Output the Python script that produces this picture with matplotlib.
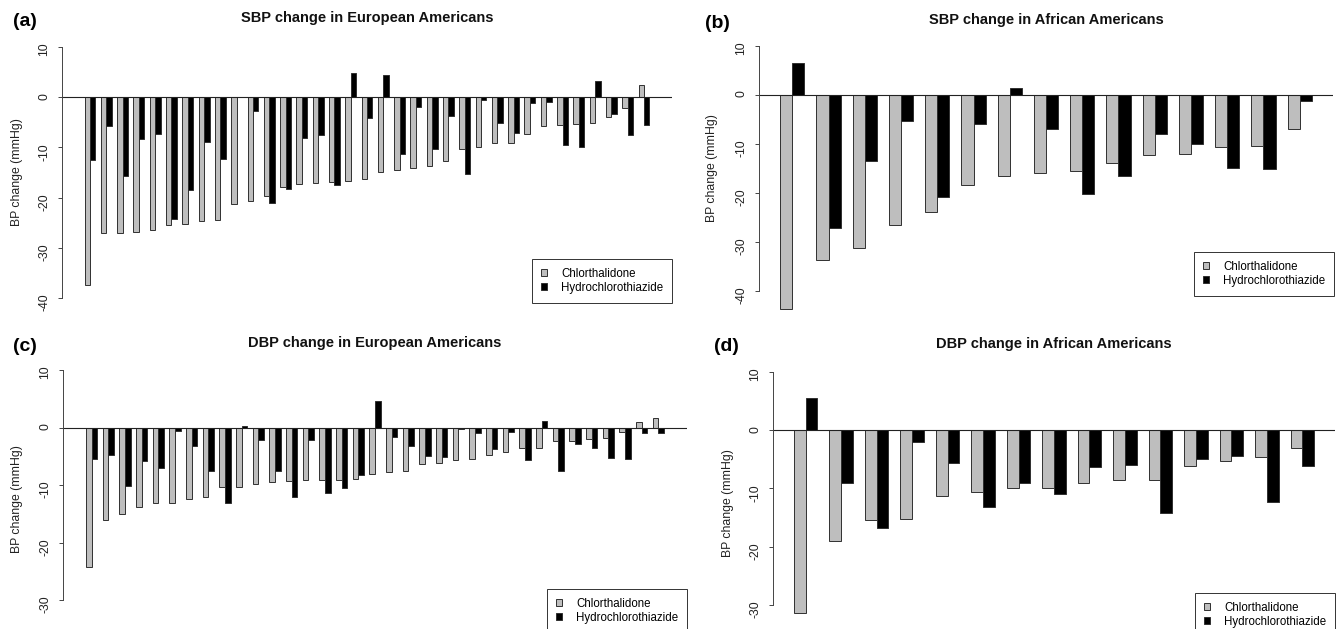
import matplotlib.pyplot as plt
from matplotlib.patches import Patch

plt.rcParams['font.family'] = ['Liberation Sans', 'DejaVu Sans']

W, H = 1338, 629
DPI = 100

# (a) SBP change, European Americans (35 pairs)
sbp_ea_chl = [-37.4, -27.0, -27.0, -26.9, -26.4, -25.5, -25.3, -24.6, -24.4, -21.3,
              -20.6, -19.7, -17.8, -17.3, -17.0, -16.8, -16.7, -16.2, -14.9, -14.6,
              -14.1, -13.7, -12.8, -10.3, -9.9, -9.2, -9.2, -7.3, -5.7, -5.6,
              -5.3, -5.1, -3.9, -2.2, 2.5]
sbp_ea_hctz = [-12.5, -5.8, -15.6, -8.3, -7.4, -24.2, -18.5, -8.9, -12.3, 0.0,
               -2.7, -21.0, -18.3, -8.2, -7.5, -17.4, 4.8, -4.1, 4.4, -11.4,
               -1.9, -10.3, -3.7, -15.2, -0.6, -5.1, -7.1, -1.1, -0.9, -9.5,
               -10.0, 3.2, -3.4, -7.5, -5.5]

# (b) SBP change, African Americans (15 pairs)
sbp_aa_chl = [-43.7, -33.6, -31.3, -26.6, -23.9, -18.3, -16.6, -16.0, -15.6, -13.9,
              -12.2, -12.1, -10.7, -10.5, -6.9]
sbp_aa_hctz = [6.6, -27.1, -13.5, -5.3, -20.9, -5.9, 1.5, -7.0, -20.3, -16.5,
               -7.9, -10.0, -14.8, -15.0, -1.3]

# (c) DBP change, European Americans
dbp_ea_chl = [-24.3, -16.0, -15.1, -13.8, -13.2, -13.1, -12.4, -12.0, -10.4, -10.4,
              -9.9, -9.4, -9.3, -9.2, -9.2, -9.2, -9.0, -8.0, -7.8, -7.5,
              -6.4, -6.1, -5.6, -5.5, -4.7, -4.3, -3.6, -3.5, -2.3, -2.3,
              -2.0, -1.8, -0.7, 1.0, 1.7]
dbp_ea_hctz = [-5.5, -4.7, -10.1, -5.8, -7.0, -0.6, -3.2, -7.5, -13.2, 0.3,
               -2.2, -7.5, -12.1, -2.2, -11.4, -10.6, -8.2, 4.6, -1.6, -3.2,
               -5.0, -5.2, -0.2, -0.9, -3.8, -0.8, -5.7, 1.1, -7.6, -2.8,
               -3.5, -5.3, -5.5, -0.9, -1.0]

# (d) DBP change, African Americans
dbp_aa_chl = [-31.4, -19.0, -15.4, -15.3, -11.3, -10.6, -10.0, -10.0, -9.0, -8.5,
              -8.5, -6.2, -5.3, -4.6, -3.0]
dbp_aa_hctz = [5.6, -9.0, -16.8, -2.1, -5.7, -13.2, -9.0, -10.9, -6.3, -5.9,
               -14.2, -4.9, -4.5, -12.3, -6.1]

drugs = ['Chlorthalidone', 'Hydrochlorothiazide']
gray = '#bebebe'

fig = plt.figure(figsize=(W / DPI, H / DPI), dpi=DPI)


def px_axes(x0, x1, ytop, ybot):
    return fig.add_axes([x0 / W, 1 - ybot / H, (x1 - x0) / W, (ybot - ytop) / H])


def fx(x):
    return x / W


def fy(y):
    return 1 - y / H


panels = [
    # tag, title, chl, hctz, axes box px, ylim, ticks, title pos, tag pos, ylabel pos, legend corner
    ('(a)', 'SBP change in European Americans', sbp_ea_chl, sbp_ea_hctz,
     (62, 672, 37, 308), (-42, 12), [10, 0, -10, -20, -30, -40],
     (367, 18), (25, 21), (17.5, 172), (672, 259)),
    ('(b)', 'SBP change in African Americans', sbp_aa_chl, sbp_aa_hctz,
     (759, 1333, 36.2, 300.8), (-42, 12), [10, 0, -10, -20, -30, -40],
     (1046, 20), (717, 23), (712, 168), (1334, 252)),
    ('(c)', 'DBP change in European Americans', dbp_ea_chl, dbp_ea_hctz,
     (63, 687, 359.7, 639.1), (-36.8, 11.8), [10, 0, -10, -20, -30],
     (375, 343), (25, 346), (17.5, 499), (687, 589)),
    ('(d)', 'DBP change in African Americans', dbp_aa_chl, dbp_aa_hctz,
     (773, 1335, 361.5, 644.6), (-36.8, 11.8), [10, 0, -10, -20, -30],
     (1054, 344), (726, 346), (728, 503), (1335, 593)),
]

for tag, title, chl, hctz, box, ylim, ticks, tpos, gpos, lpos, legpos in panels:
    ax = px_axes(*box)
    n = len(chl)
    xg = [3 * i + 1.5 for i in range(n)]
    xb = [3 * i + 2.5 for i in range(n)]
    ax.bar(xg, chl, width=1, color=gray, edgecolor='#303030', linewidth=0.7, clip_on=False)
    ax.bar(xb, hctz, width=1, color='black', edgecolor='#303030', linewidth=0.7, clip_on=False)
    span = 3 * n - 1
    ax.set_xlim(1 - 0.04 * span, 3 * n + 0.04 * span)
    ax.set_ylim(*ylim)
    ax.axhline(0, color='#222222', linewidth=0.8)

    for s in ['top', 'right', 'bottom']:
        ax.spines[s].set_visible(False)
    ax.spines['left'].set_bounds(min(ticks), max(ticks))
    ax.spines['left'].set_color('#444444')
    ax.spines['left'].set_linewidth(0.7)
    ax.set_xticks([])
    ax.set_yticks(ticks)
    ax.set_yticklabels([str(t) for t in ticks])
    ax.tick_params(axis='y', length=3, width=0.7, color='#444444', pad=5.5,
                   labelsize=8.8, labelrotation=90, labelcolor='#222222')
    ax.patch.set_visible(False)

    fig.text(fx(tpos[0]), fy(tpos[1]), title, ha='center', va='center',
             fontsize=10.5, fontweight='bold', color='#111111')
    fig.text(fx(gpos[0]), fy(gpos[1]), tag, ha='center', va='center',
             fontsize=14, fontweight='bold', color='black')
    fig.text(fx(lpos[0]), fy(lpos[1]), 'BP change (mmHg)', ha='center', va='center',
             rotation=90, fontsize=8.8, color='#222222')

    handles = [Patch(facecolor=gray, edgecolor='#303030', linewidth=0.7),
               Patch(facecolor='black', edgecolor='#303030', linewidth=0.7)]
    leg = ax.legend(handles, drugs, loc='upper right',
                    bbox_to_anchor=(fx(legpos[0]), fy(legpos[1])),
                    bbox_transform=fig.transFigure, fontsize=8.3,
                    handlelength=0.55, handleheight=0.55, handletextpad=1.2,
                    labelspacing=0.2, borderpad=0.75, borderaxespad=0,
                    fancybox=False, framealpha=1)
    leg.get_frame().set_edgecolor('#333333')
    leg.get_frame().set_linewidth(0.7)

fig.savefig('out.png', dpi=DPI)
